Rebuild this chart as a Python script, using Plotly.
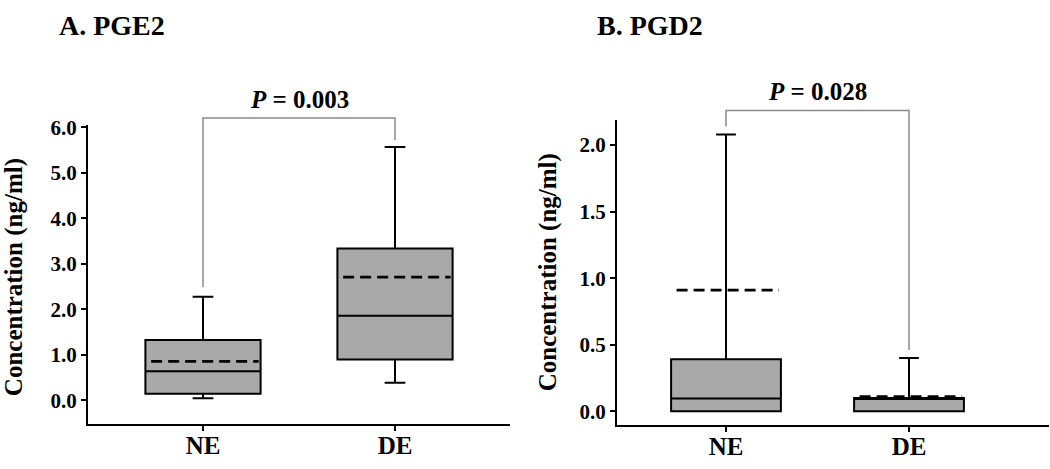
import plotly.graph_objects as go

W, H = 1050, 469
FONT = "Liberation Serif"

groups = ["NE", "DE"]

# Panel A: PGE2 (ng/ml)
pge2_lower = [0.05, 0.39]
pge2_q1 = [0.15, 0.90]
pge2_median = [0.64, 1.86]
pge2_q3 = [1.33, 3.34]
pge2_upper = [2.28, 5.57]
pge2_mean = [0.86, 2.71]
pge2_p = "<i>P</i> = 0.003"
pge2_bracket_top = 6.21
pge2_bracket_legs = [2.49, 5.72]

# Panel B: PGD2 (ng/ml)
pgd2_lower = [0.0, 0.0]
pgd2_q1 = [0.0, 0.0]
pgd2_median = [0.095, 0.095]
pgd2_q3 = [0.39, 0.10]
pgd2_upper = [2.08, 0.40]
pgd2_mean = [0.91, 0.11]
pgd2_p = "<i>P</i> = 0.028"
pgd2_bracket_top = 2.26
pgd2_bracket_legs = [2.14, 0.46]

y_ticks_a = [0, 1, 2, 3, 4, 5, 6]
y_ticks_b = [0, 0.5, 1.0, 1.5, 2.0]

xpos = list(range(len(groups)))
BOX_W = 0.6

# layout geometry (pixels from top-left)
A_X = (88, 510); A_Y = (118, 423); A_RANGE = (-0.516, 6.043)
B_X = (617, 1049); B_Y = (112, 424); B_RANGE = (-0.103, 2.191)
EXT_TOP = 55  # extended (invisible) axis top, for brackets / P labels


def ydom(py):
    return [(H - py[1]) / H, (H - py[0]) / H]


def ext_range(py, rng):
    # same scale as the visible axis, domain extended upward
    per_px = (rng[1] - rng[0]) / (py[1] - py[0])
    return [rng[0], rng[0] + per_px * (py[1] - EXT_TOP)]


fig = go.Figure()


def add_panel(xa, ya, yext, lower, q1, med, q3, upper, mean, top, legs):
    fig.add_trace(go.Box(
        x=xpos, q1=q1, median=med, q3=q3,
        lowerfence=lower, upperfence=upper,
        boxmean=False, width=BOX_W, whiskerwidth=0.18,
        fillcolor="#a9a9a9", line=dict(color="black", width=2),
        xaxis=xa, yaxis=ya, showlegend=False, hoverinfo="skip",
    ))
    for i, m in zip(xpos, mean):
        fig.add_trace(go.Scatter(
            x=[i - BOX_W / 2 + 0.03, i + BOX_W / 2 - 0.01], y=[m, m], mode="lines",
            line=dict(color="black", width=2.6, dash="11px,6px"),
            xaxis=xa, yaxis=ya, showlegend=False, hoverinfo="skip",
        ))
    fig.add_trace(go.Scatter(
        x=[xpos[0], xpos[0], xpos[1], xpos[1]],
        y=[legs[0], top, top, legs[1]],
        mode="lines", line=dict(color="#8a8a8a", width=1.5),
        xaxis=xa, yaxis=yext, showlegend=False, hoverinfo="skip",
    ))


add_panel("x", "y", "y3", pge2_lower, pge2_q1, pge2_median, pge2_q3, pge2_upper,
          pge2_mean, pge2_bracket_top, pge2_bracket_legs)
add_panel("x2", "y2", "y4", pgd2_lower, pgd2_q1, pgd2_median, pgd2_q3, pgd2_upper,
          pgd2_mean, pgd2_bracket_top, pgd2_bracket_legs)

axis_common = dict(showline=True, linecolor="black", linewidth=2,
                   ticks="outside", ticklen=5, tickwidth=2, tickcolor="black",
                   showgrid=False, zeroline=False)
xtick_font = dict(size=25, family=FONT, weight="bold")
ytick_font = dict(size=21, family=FONT, weight="bold")

fig.update_layout(
    width=W, height=H,
    margin=dict(l=0, r=0, t=0, b=0),
    paper_bgcolor="white", plot_bgcolor="rgba(0,0,0,0)",
    font=dict(family=FONT, color="black"),
    xaxis=dict(domain=[A_X[0] / W, A_X[1] / W], anchor="y",
               range=[(A_X[0] - 203) / 192, (A_X[1] - 203) / 192],
               tickvals=xpos, ticktext=groups, tickfont=xtick_font,
               ticklabelstandoff=-7, **axis_common),
    yaxis=dict(domain=ydom(A_Y), anchor="x", range=list(A_RANGE),
               tickvals=y_ticks_a, tickformat=".1f", tickfont=ytick_font, **axis_common),
    xaxis2=dict(domain=[B_X[0] / W, B_X[1] / W], anchor="y2",
                range=[(B_X[0] - 726) / 183, (B_X[1] - 726) / 183],
                tickvals=xpos, ticktext=groups, tickfont=xtick_font,
                ticklabelstandoff=-7, **axis_common),
    yaxis2=dict(domain=ydom(B_Y), anchor="x2", range=list(B_RANGE),
                tickvals=y_ticks_b, tickformat=".1f", tickfont=ytick_font, **axis_common),
    yaxis3=dict(domain=ydom((EXT_TOP, A_Y[1])), anchor="x", range=ext_range(A_Y, A_RANGE),
                visible=False),
    yaxis4=dict(domain=ydom((EXT_TOP, B_Y[1])), anchor="x2", range=ext_range(B_Y, B_RANGE),
                visible=False),
)

annotations = [
    dict(text="<b>A. PGE2</b>", xref="paper", yref="paper", x=57 / W, y=1 - 16 / H,
         xanchor="left", yanchor="middle", showarrow=False, font=dict(size=28, family=FONT)),
    dict(text="<b>B. PGD2</b>", xref="paper", yref="paper", x=595 / W, y=1 - 16 / H,
         xanchor="left", yanchor="middle", showarrow=False, font=dict(size=28, family=FONT)),
    dict(text="<b>Concentration (ng/ml)</b>", xref="paper", yref="paper", x=14 / W, y=1 - 273 / H,
         xanchor="center", yanchor="middle", textangle=-90, showarrow=False,
         font=dict(size=25, family=FONT)),
    dict(text="<b>Concentration (ng/ml)</b>", xref="paper", yref="paper", x=548 / W, y=1 - 268 / H,
         xanchor="center", yanchor="middle", textangle=-90, showarrow=False,
         font=dict(size=25, family=FONT)),
    dict(text="<b>" + pge2_p + "</b>", xref="x", yref="y3", x=0.5, y=pge2_bracket_top,
         xanchor="center", yanchor="bottom", yshift=3, showarrow=False,
         font=dict(size=25, family=FONT)),
    dict(text="<b>" + pgd2_p + "</b>", xref="x2", yref="y4", x=0.5, y=pgd2_bracket_top,
         xanchor="center", yanchor="bottom", yshift=3, showarrow=False,
         font=dict(size=25, family=FONT)),
]
fig.update_layout(annotations=annotations)

fig.write_html("out.html", config={"displayModeBar": False},
               post_script="document.body.style.margin='0';document.body.style.overflow='hidden';")
